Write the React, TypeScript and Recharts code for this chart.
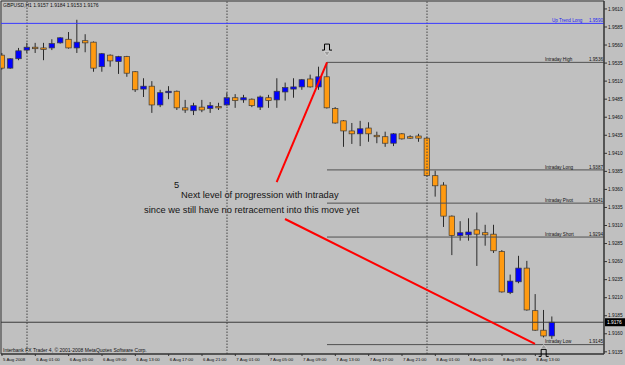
import React from 'react';
import {
  ComposedChart,
  Bar,
  XAxis,
  YAxis,
  ReferenceLine,
  ReferenceDot,
  ReferenceArea,
} from 'recharts';

// ---------- header / footer text ----------
const headerText = 'GBPUSD,H1  1.9157 1.9184 1.9153 1.9176';
const copyrightText = 'Interbank FX Trader 4, \u00A9 2001-2008 MetaQuotes Software Corp.';

// ---------- candle data (hours relative to 6 Aug 2008 00:00, H1 bars) ----------
const firstHour = -3;
const opens = [
  1.9546, 1.9528, 1.9541, 1.9553, 1.9557, 1.9556, 1.9556, 1.9563, 1.9568, 1.9556,
  1.9566, 1.9564, 1.953, 1.9546, 1.9537, 1.9544, 1.9523, 1.9499, 1.9503, 1.9477,
  1.9494, 1.9496, 1.9473, 1.9469, 1.9474, 1.9472, 1.9475, 1.9477, 1.9487, 1.9484,
  1.9485, 1.9474, 1.9487, 1.9484, 1.9495, 1.9499, 1.9502, 1.9513, 1.9502, 1.9516,
  1.9472, 1.9455, 1.9441, 1.9437, 1.9445, 1.9435, 1.9433, 1.9424, 1.9437, 1.9433,
  1.9434, 1.9431, 1.9379, 1.9366, 1.9323, 1.9296, 1.9297, 1.9304, 1.93, 1.9298,
  1.9274, 1.9217, 1.9232, 1.9251, 1.9192, 1.9165, 1.9157,
];
const highs = [
  1.9549, 1.9542, 1.9556, 1.9563, 1.9563, 1.9563, 1.9568, 1.9571, 1.9578, 1.9595,
  1.9575, 1.9565, 1.9549, 1.9547, 1.9545, 1.9545, 1.9524, 1.9514, 1.951, 1.9498,
  1.9503, 1.9497, 1.9484, 1.948, 1.9484, 1.9481, 1.948, 1.9494, 1.9492, 1.9491,
  1.9486, 1.949, 1.9491, 1.9514, 1.9508, 1.9514, 1.9513, 1.9519, 1.953, 1.9536,
  1.9474, 1.9456, 1.9452, 1.9455, 1.9453, 1.944, 1.944, 1.9438, 1.9438, 1.9435,
  1.9437, 1.9433, 1.9386, 1.937, 1.9324, 1.9316, 1.932, 1.9328, 1.9311, 1.9311,
  1.9276, 1.9242, 1.9268, 1.9261, 1.9215, 1.9193, 1.9184,
];
const lows = [
  1.9526, 1.9527, 1.9539, 1.9549, 1.9549, 1.9539, 1.9553, 1.9562, 1.9555, 1.9549,
  1.955, 1.9523, 1.9523, 1.953, 1.952, 1.9516, 1.9495, 1.9488, 1.9466, 1.9474,
  1.9485, 1.947, 1.9466, 1.9463, 1.9467, 1.9466, 1.947, 1.9476, 1.9473, 1.948,
  1.9474, 1.947, 1.9473, 1.9473, 1.9483, 1.9487, 1.9498, 1.9501, 1.9498, 1.9472,
  1.9451, 1.9419, 1.9423, 1.942, 1.9426, 1.9424, 1.9419, 1.942, 1.9429, 1.943,
  1.9426, 1.9378, 1.935, 1.9308, 1.9269, 1.9289, 1.9289, 1.9254, 1.9282, 1.9272,
  1.9217, 1.9215, 1.923, 1.9192, 1.9164, 1.9155, 1.9153,
];
const closes = [
  1.9528, 1.9541, 1.9552, 1.9557, 1.9556, 1.9555, 1.9562, 1.957, 1.9556, 1.9564,
  1.9563, 1.9528, 1.9548, 1.9538, 1.9544, 1.9521, 1.9498, 1.9503, 1.9477, 1.9494,
  1.9496, 1.9473, 1.947, 1.9476, 1.947, 1.9476, 1.9474, 1.9487, 1.9483, 1.9487,
  1.9476, 1.9488, 1.9483, 1.9496, 1.9501, 1.9502, 1.9512, 1.9502, 1.9516, 1.9473,
  1.9452, 1.9441, 1.9437, 1.9444, 1.9437, 1.9434, 1.9424, 1.9437, 1.943, 1.9432,
  1.9431, 1.9379, 1.9365, 1.9323, 1.9296, 1.93, 1.9301, 1.9298, 1.9297, 1.9275,
  1.9218, 1.9233, 1.9251, 1.9193, 1.9165, 1.9157, 1.9176,
];

// ---------- axes ----------
const xTickHours = [-3, 1, 5, 9, 13, 17, 21, 25, 29, 33, 37, 41, 45, 49, 53, 57, 61];
const xTickLabels = [
  '5 Aug 2008', '6 Aug 01:00', '6 Aug 05:00', '6 Aug 09:00', '6 Aug 13:00', '6 Aug 17:00',
  '6 Aug 21:00', '7 Aug 01:00', '7 Aug 05:00', '7 Aug 09:00', '7 Aug 13:00', '7 Aug 17:00',
  '7 Aug 21:00', '8 Aug 01:00', '8 Aug 05:00', '8 Aug 09:00', '8 Aug 13:00',
];
const yTicks = [
  1.9135, 1.916, 1.9185, 1.921, 1.9235, 1.926, 1.9285, 1.931, 1.9335, 1.936,
  1.9385, 1.941, 1.9435, 1.946, 1.9485, 1.951, 1.9535, 1.956, 1.9585, 1.961,
];
const xDomain = [-3.12, 69.24];
const yDomain = [1.9132, 1.9621];

// ---------- levels ----------
const upTrendName = 'Up Trend Long';
const upTrendValue = 1.959;
const levelNames = ['Intraday High', 'Intraday Long', 'Intraday Pivot', 'Intraday Short', 'Intraday Low'];
const levelValues = [1.9536, 1.9387, 1.9341, 1.9294, 1.9145];
const levelStartHour = 36;
const currentPrice = 1.9176;
const separatorHours = [0, 24, 48];

// ---------- drawn objects ----------
const redLineStartHours = [36, 30.96];
const redLineStartPrices = [1.9536, 1.9319];
const redLineEndHours = [29.96, 60.96];
const redLineEndPrices = [1.937, 1.9146];

const noteTexts = [
  '5',
  'Next level of progression with Intraday',
  'since we still have no retracement into this move yet',
];
const noteHours = [17.94, 18.48, 14.04];
const notePrices = [1.9366, 1.93524, 1.93316];
const noteAnchors = ['middle', 'start', 'start'];

const markerHours = [36, 62];
const markerPrices = [1.9553, 1.9137];
const markerDirections = ['down', 'up'];

const FONT = '"Liberation Sans", Arial, sans-serif';

const candles = opens.map((o, i) => ({
  hour: firstHour + i,
  o,
  h: highs[i],
  l: lows[i],
  c: closes[i],
  range: [lows[i], highs[i]],
}));

const Candle = (props: any) => {
  const { x, y, width, height, payload } = props;
  if (x == null || y == null || !payload) return null;
  const { o, h, l, c } = payload;
  const top = Math.min(y, y + height);
  const hPx = Math.abs(height);
  const ppu = hPx / Math.max(h - l, 1e-9);
  const yOf = (v: number) => top + (h - v) * ppu;
  const cx = x + width / 2;
  const bTop = yOf(Math.max(o, c));
  const bBot = yOf(Math.min(o, c));
  const up = c > o;
  const fill = up ? '#0000ff' : '#ff9a10';
  const bw = 5.5;
  const flat = Math.abs(c - o) < 0.00005;
  return (
    <g>
      <line x1={cx} x2={cx} y1={top} y2={top + hPx} stroke="#2a2a2a" strokeWidth={1} />
      {flat ? (
        <line x1={cx - bw / 2} x2={cx + bw / 2} y1={bTop} y2={bTop} stroke="#2a2a2a" strokeWidth={1} />
      ) : (
        <rect
          x={cx - bw / 2}
          y={bTop}
          width={bw}
          height={Math.max(bBot - bTop, 1.5)}
          fill={fill}
          stroke="#3a3a3a"
          strokeWidth={0.7}
        />
      )}
    </g>
  );
};

const XTick = (props: any) => {
  const { x, y, payload } = props;
  const idx = xTickHours.indexOf(payload.value);
  return (
    <text x={x + 1} y={y + 4.5} fontSize={4.4} fontFamily={FONT} fill="#111" textAnchor="start">
      {idx >= 0 ? xTickLabels[idx] : ''}
    </text>
  );
};

const YTick = (props: any) => {
  const { x, y, payload } = props;
  return (
    <text x={x} y={y + 1.7} fontSize={4.8} fontFamily={FONT} fill="#111" textAnchor="start">
      {Number(payload.value).toFixed(4)}
    </text>
  );
};

const makeLevelLabel = (name: string, value: number, color: string, nameOffset: number) => (p: any) => {
  const vb = p.viewBox || {};
  const right = vb.x + vb.width;
  const yy = vb.y - 1.3;
  return (
    <g fontSize={4.6} fontFamily={FONT} fill={color}>
      <text x={right - nameOffset} y={yy}>{name}</text>
      <text x={right - 1} y={yy} textAnchor="end">{value.toFixed(4)}</text>
    </g>
  );
};

const CurrentPriceLabel = (p: any) => {
  const vb = p.viewBox || {};
  const right = vb.x + vb.width;
  return (
    <g>
      <rect x={right + 1} y={vb.y - 4} width={20} height={8} fill="#000" />
      <text x={right + 3} y={vb.y + 1.8} fontSize={4.8} fontFamily={FONT} fill="#fff">
        {currentPrice.toFixed(4)}
      </text>
    </g>
  );
};

const makeNote = (text: string, anchor: string) => (p: any) => (
  <text
    x={p.cx}
    y={p.cy}
    dy="0.35em"
    fontSize={9.3}
    fontFamily={FONT}
    fill="#141414"
    textAnchor={anchor as any}
  >
    {text}
  </text>
);

const makeMarker = (dir: string) => (p: any) => {
  const { cx, cy } = p;
  if (dir === 'down') {
    return (
      <g>
        <path
          d={`M${cx - 5} ${cy} H${cx - 2.5} V${cy - 6} H${cx + 2.5} V${cy} H${cx + 5}`}
          fill="none"
          stroke="#000"
          strokeWidth={1}
        />
        <path
          d={`M${cx - 3} ${cy + 1.5} H${cx + 3} L${cx} ${cy + 6} Z`}
          fill="#9a9a9a"
          stroke="#eee"
          strokeWidth={0.5}
        />
      </g>
    );
  }
  return (
    <g>
      <path
        d={`M${cx - 3} ${cy - 2} H${cx + 3} L${cx} ${cy - 6} Z`}
        fill="#9a9a9a"
        stroke="#eee"
        strokeWidth={0.5}
      />
      <path
        d={`M${cx - 5} ${cy + 6} H${cx - 2.5} V${cy - 1} H${cx + 2.5} V${cy + 6} H${cx + 5}`}
        fill="none"
        stroke="#000"
        strokeWidth={1}
      />
    </g>
  );
};

export default function App() {
  return (
    <div style={{ position: 'absolute', left: 0, top: 0, width: 625, height: 365, background: '#c0c0c0' }}>
      <ComposedChart width={625} height={365} data={candles} margin={{ top: 1, right: 0, left: 1, bottom: 0 }}>
        <XAxis
          dataKey="hour"
          type="number"
          domain={xDomain}
          allowDataOverflow
          ticks={xTickHours}
          tick={XTick}
          tickSize={2}
          tickMargin={0}
          height={11}
          interval={0}
          stroke="#333"
        />
        <YAxis
          orientation="right"
          type="number"
          domain={yDomain}
          allowDataOverflow
          ticks={yTicks}
          tick={YTick}
          tickSize={3}
          tickMargin={1}
          width={21}
          interval={0}
          stroke="#333"
        />
        <ReferenceArea
          x1={xDomain[0]}
          x2={xDomain[1]}
          y1={yDomain[0]}
          y2={yDomain[1]}
          fill="none"
          stroke="#333"
          strokeWidth={1}
          ifOverflow="visible"
        />
        {separatorHours.map((h) => (
          <ReferenceLine key={'sep' + h} x={h} stroke="#444" strokeDasharray="1.5 1.5" strokeWidth={1} />
        ))}
        <ReferenceLine
          y={upTrendValue}
          stroke="#3838ff"
          strokeWidth={1}
          label={makeLevelLabel(upTrendName, upTrendValue, '#2222ee', 52)}
        />
        {levelValues.map((v, i) => (
          <ReferenceLine
            key={'lvl' + i}
            segment={[
              { x: levelStartHour, y: v },
              { x: xDomain[1], y: v },
            ]}
            stroke="#505050"
            strokeWidth={1}
            label={makeLevelLabel(levelNames[i], v, '#111', 59)}
          />
        ))}
        <ReferenceLine y={currentPrice} stroke="#3a3a3a" strokeWidth={1} label={CurrentPriceLabel} />
        <Bar dataKey="range" barSize={6} shape={Candle} isAnimationActive={false} />
        {redLineStartHours.map((h, i) => (
          <ReferenceLine
            key={'red' + i}
            segment={[
              { x: h, y: redLineStartPrices[i] },
              { x: redLineEndHours[i], y: redLineEndPrices[i] },
            ]}
            stroke="#ff0000"
            strokeWidth={2}
          />
        ))}
        {noteTexts.map((t, i) => (
          <ReferenceDot
            key={'note' + i}
            x={noteHours[i]}
            y={notePrices[i]}
            r={0}
            ifOverflow="visible"
            shape={makeNote(t, noteAnchors[i])}
          />
        ))}
        {markerHours.map((h, i) => (
          <ReferenceDot
            key={'mk' + i}
            x={h}
            y={markerPrices[i]}
            r={0}
            ifOverflow="visible"
            shape={makeMarker(markerDirections[i])}
          />
        ))}
      </ComposedChart>
      <svg
        width={625}
        height={365}
        style={{ position: 'absolute', left: 0, top: 0, pointerEvents: 'none' }}
      >
        <text x={3} y={6.8} fontSize={5} fontFamily={FONT} fill="#111">
          {headerText}
        </text>
        <text x={3} y={351.8} fontSize={5} fontFamily={FONT} fill="#111">
          {copyrightText}
        </text>
      </svg>
    </div>
  );
}
